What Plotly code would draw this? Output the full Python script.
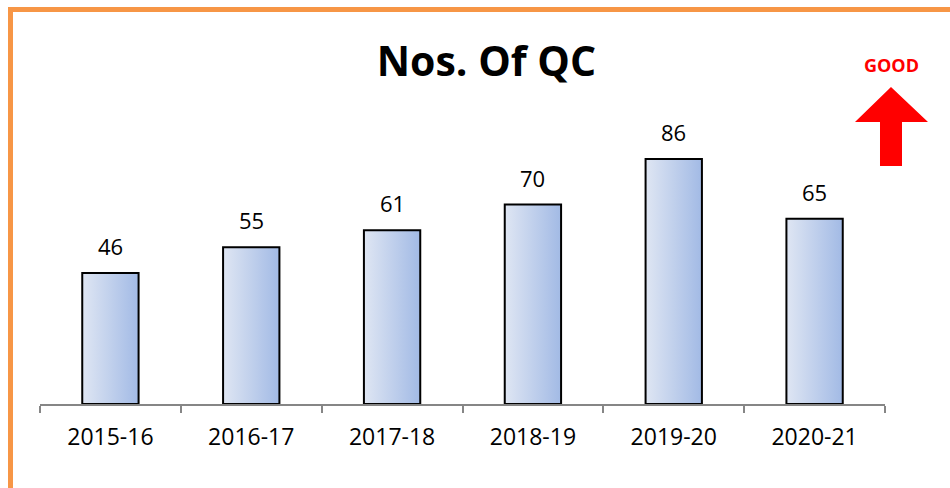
import plotly.graph_objects as go

# Yearly count of quality circles
years = ["2015-16", "2016-17", "2017-18", "2018-19", "2019-20", "2020-21"]
qc_counts = [46, 55, 61, 70, 86, 65]

W, H = 950, 488
M_L, M_R, M_T, M_B = 40, 65, 119, 84
PW, PH = W - M_L - M_R, H - M_T - M_B
HALF = 0.2  # half bar width in category units


def px(x):
    return (x - M_L) / PW


def py(y):
    return (H - M_B - y) / PH


fig = go.Figure()

# Bars drawn as filled outlines so each one gets a light-to-blue gradient
for i, v in enumerate(qc_counts):
    fig.add_trace(go.Scatter(
        x=[i - HALF, i + HALF, i + HALF, i - HALF, i - HALF],
        y=[0, 0, v, v, 0],
        mode="lines",
        fill="toself",
        fillgradient=dict(type="horizontal",
                          colorscale=[[0, "#dfe6f3"], [1, "#a2bae5"]]),
        line=dict(color="#000000", width=2),
        hoverinfo="skip",
        showlegend=False,
    ))

# Value labels above bars
for i, v in enumerate(qc_counts):
    fig.add_annotation(x=i, y=v, text=str(v), showarrow=False,
                       yanchor="bottom", yshift=10,
                       font=dict(family="Open Sans", size=22, color="#000000"))

# "GOOD" marker with upward arrow
fig.add_annotation(xref="paper", yref="paper", x=px(891), y=py(65),
                   text="<b>GOOD</b>", showarrow=False,
                   xanchor="center", yanchor="middle",
                   font=dict(family="Open Sans", size=18, color="#ff0000"))
arrow_pts = [(891, 87), (928, 122), (902, 122), (902, 166),
             (880, 166), (880, 122), (855, 122)]
path = "M " + " L ".join(f"{px(a):.5f},{py(b):.5f}" for a, b in arrow_pts) + " Z"
fig.add_shape(type="path", xref="paper", yref="paper", path=path,
              fillcolor="#ff0000", line=dict(width=0))

# Orange frame around the chart
fig.add_shape(type="rect", xref="paper", yref="paper",
              x0=px(10.5), y0=py(492), x1=px(956), y1=py(9.5),
              line=dict(color="#f79646", width=5), fillcolor="rgba(0,0,0,0)",
              layer="below")

fig.update_layout(
    width=W, height=H,
    margin=dict(l=M_L, r=M_R, t=M_T, b=M_B),
    paper_bgcolor="#ffffff",
    plot_bgcolor="#ffffff",
    title=dict(text="<b>Nos. Of QC</b>", x=0.512, xanchor="center",
               y=1 - 62 / H, yanchor="middle",
               font=dict(family="Open Sans", size=41, color="#000000")),
    xaxis=dict(
        range=[-0.5, len(years) - 0.5],
        tickmode="array",
        tickvals=list(range(len(years))),
        ticktext=years,
        ticks="",
        showgrid=False,
        zeroline=False,
        showline=True,
        linecolor="#868686",
        linewidth=1.5,
        tickfont=dict(family="Open Sans", size=23, color="#000000"),
        ticklabelstandoff=12,
        minor=dict(tickmode="array",
                   tickvals=[k - 0.5 for k in range(len(years) + 1)],
                   ticks="outside", ticklen=7, tickwidth=1.5,
                   tickcolor="#868686", showgrid=False),
        fixedrange=True,
    ),
    yaxis=dict(range=[0, 100], visible=False, fixedrange=True),
    showlegend=False,
)

fig.write_html("out.html")
